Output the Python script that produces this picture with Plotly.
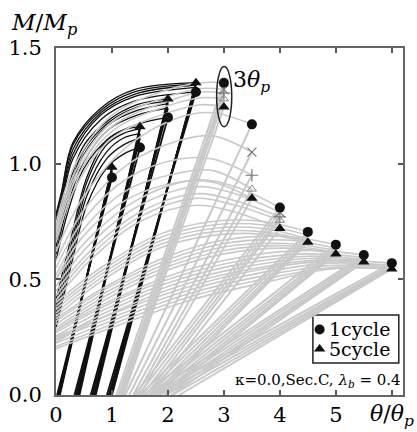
import plotly.graph_objects as go

# ---------------- data ----------------
AMPS = [1.0, 1.5, 2.0, 2.5, 3.0, 3.5, 4.0, 4.5, 5.0, 5.5, 6.0]
N_BLACK = 4  # first four amplitudes drawn in black

PEAK_C1 = [0.94, 1.07, 1.20, 1.31, 1.35, 1.17, 0.81, 0.705, 0.65, 0.605, 0.57]
PEAK_C2 = [0.955, 1.11, 1.24, 1.33, 1.32, 1.05, 0.79, 0.69, 0.635, 0.595, 0.56]
PEAK_C3 = [0.97, 1.13, 1.26, 1.34, 1.305, 0.95, 0.77, 0.675, 0.625, 0.585, 0.555]
PEAK_C4 = [0.98, 1.15, 1.27, 1.345, 1.28, 0.89, 0.755, 0.665, 0.615, 0.58, 0.55]
PEAK_C5 = [0.985, 1.16, 1.28, 1.35, 1.245, 0.85, 0.72, 0.66, 0.61, 0.575, 0.545]

BASE_C1 = [0.02, 0.33, 0.62, 0.91, 1.08, 1.24, 1.40, 1.50, 1.58, 1.66, 1.72]
BASE_C2 = [0.035, 0.355, 0.645, 0.94, 1.12, 1.31, 1.47, 1.58, 1.67, 1.76, 1.84]
BASE_C3 = [0.05, 0.38, 0.67, 0.96, 1.15, 1.38, 1.54, 1.66, 1.76, 1.86, 1.96]
BASE_C4 = [0.06, 0.40, 0.69, 0.98, 1.18, 1.44, 1.61, 1.74, 1.85, 1.96, 2.08]
BASE_C5 = [0.07, 0.42, 0.71, 1.00, 1.21, 1.50, 1.68, 1.82, 1.94, 2.06, 2.20]

RL_X_15 = [0.0, 0.28, 0.55, 0.9, 1.2]
RL_Y_15 = [[0.29, 0.57, 0.82, 0.98, 1.04], [0.32, 0.60, 0.86, 1.02, 1.08],
           [0.35, 0.63, 0.89, 1.05, 1.11], [0.38, 0.66, 0.92, 1.08, 1.13],
           [0.41, 0.69, 0.94, 1.10, 1.145]]
RL_X_20 = [0.0, 0.2, 0.5, 0.95, 1.45]
RL_Y_20 = [[0.58, 0.78, 0.98, 1.11, 1.17], [0.61, 0.81, 1.01, 1.15, 1.21],
           [0.64, 0.84, 1.04, 1.17, 1.23], [0.66, 0.86, 1.06, 1.18, 1.245],
           [0.68, 0.88, 1.08, 1.19, 1.255]]
RL_X_25 = [0.0, 0.1, 0.3, 0.8, 1.4]
RL_Y_25 = [[0.72, 0.82, 1.02, 1.19, 1.27], [0.74, 0.84, 1.04, 1.21, 1.29],
           [0.75, 0.85, 1.06, 1.22, 1.30], [0.77, 0.87, 1.08, 1.23, 1.31],
           [0.78, 0.88, 1.09, 1.24, 1.32]]
RL_X_30 = [0.0, 0.35, 1.0, 2.0, 2.6]
RL_Y_30 = [[0.74, 1.00, 1.21, 1.32, 1.35], [0.72, 0.97, 1.18, 1.29, 1.325],
           [0.70, 0.95, 1.16, 1.27, 1.31], [0.68, 0.93, 1.14, 1.25, 1.285],
           [0.66, 0.90, 1.11, 1.22, 1.255]]
RL_X_35 = [0.0, 0.5, 1.3, 2.2, 2.8]
RL_Y_35 = [[0.62, 0.86, 1.08, 1.20, 1.22], [0.58, 0.80, 1.00, 1.10, 1.12],
           [0.55, 0.76, 0.94, 1.02, 1.02], [0.52, 0.72, 0.89, 0.96, 0.97],
           [0.50, 0.69, 0.85, 0.92, 0.92]]
RL_X_40 = [0.0, 0.6, 1.5, 2.5, 3.2]
RL_Y_40 = [[0.50, 0.68, 0.85, 0.93, 0.90], [0.47, 0.65, 0.82, 0.90, 0.87],
           [0.45, 0.62, 0.79, 0.87, 0.84], [0.43, 0.60, 0.77, 0.85, 0.82],
           [0.41, 0.58, 0.75, 0.82, 0.79]]
RL_X_45 = [0.0, 0.8, 1.8, 2.8, 3.7]
RL_Y_45 = [[0.40, 0.55, 0.69, 0.75, 0.75], [0.385, 0.535, 0.675, 0.735, 0.735],
           [0.37, 0.52, 0.66, 0.72, 0.72], [0.355, 0.505, 0.645, 0.705, 0.705],
           [0.34, 0.49, 0.63, 0.69, 0.695]]
RL_X_50 = [0.0, 0.9, 2.0, 3.0, 4.1]
RL_Y_50 = [[0.33, 0.47, 0.60, 0.67, 0.685], [0.32, 0.46, 0.585, 0.655, 0.67],
           [0.305, 0.445, 0.57, 0.64, 0.655], [0.29, 0.43, 0.555, 0.625, 0.645],
           [0.28, 0.415, 0.54, 0.61, 0.635]]
RL_X_55 = [0.0, 1.0, 2.2, 3.4, 4.5]
RL_Y_55 = [[0.28, 0.41, 0.53, 0.60, 0.625], [0.27, 0.40, 0.515, 0.585, 0.61],
           [0.255, 0.385, 0.50, 0.57, 0.60], [0.24, 0.37, 0.485, 0.555, 0.59],
           [0.23, 0.355, 0.47, 0.54, 0.58]]
RL_X_60 = [0.0, 1.1, 2.4, 3.7, 4.9]
RL_Y_60 = [[0.25, 0.36, 0.47, 0.545, 0.58], [0.24, 0.345, 0.455, 0.53, 0.57],
           [0.225, 0.33, 0.44, 0.515, 0.56], [0.21, 0.315, 0.425, 0.50, 0.55],
           [0.20, 0.30, 0.41, 0.485, 0.545]]

MID_X = [3.0, 3.5, 4.0]

X_TICKS = [0, 1, 2, 3, 4, 5, 6]
X_TICKTEXT = ["0", "1", "2", "3", "4", "5", ""]
Y_TICKS = [0.0, 0.5, 1.0, 1.5]
Y_TICKTEXT = ["0.0", "0.5", "1.0", "1.5"]

# ---------------- build figure ----------------
PEAKS = [PEAK_C1, PEAK_C2, PEAK_C3, PEAK_C4, PEAK_C5]
BASES = [BASE_C1, BASE_C2, BASE_C3, BASE_C4, BASE_C5]
RELOAD = {1.5: (RL_X_15, RL_Y_15), 2.0: (RL_X_20, RL_Y_20), 2.5: (RL_X_25, RL_Y_25),
          3.0: (RL_X_30, RL_Y_30), 3.5: (RL_X_35, RL_Y_35), 4.0: (RL_X_40, RL_Y_40),
          4.5: (RL_X_45, RL_Y_45), 5.0: (RL_X_50, RL_Y_50), 5.5: (RL_X_55, RL_Y_55),
          6.0: (RL_X_60, RL_Y_60)}

BLACK = "#111111"
GRAY = "#c9c9c9"
SERIF = "DejaVu Serif"

fig = go.Figure()


def add_group(indices, color, w_curve, w_line):
    for i in indices:
        a = AMPS[i]
        if a not in RELOAD:
            continue
        xs, ys = RELOAD[a]
        for c in range(5):
            fig.add_trace(go.Scatter(
                x=list(xs) + [a], y=list(ys[c]) + [PEAKS[c][i]], mode="lines",
                line=dict(color=color, width=w_curve, shape="spline", smoothing=1.0),
                hoverinfo="skip", showlegend=False))
    lx, ly = [], []
    for i in indices:
        for c in range(5):
            lx += [BASES[c][i], AMPS[i], None]
            ly += [0.0, PEAKS[c][i], None]
    fig.add_trace(go.Scatter(x=lx, y=ly, mode="lines",
                             line=dict(color=color, width=w_line),
                             hoverinfo="skip", showlegend=False))


add_group(range(N_BLACK), BLACK, 1.3, 1.8)
add_group(range(N_BLACK, len(AMPS)), GRAY, 1.6, 2.0)

mid_idx = [AMPS.index(v) for v in MID_X]
fig.add_trace(go.Scatter(x=MID_X, y=[PEAK_C2[i] for i in mid_idx], mode="markers",
                         marker=dict(symbol="x-thin-open", size=9, color="#777",
                                     line=dict(color="#777", width=1.2)),
                         showlegend=False, hoverinfo="skip"))
fig.add_trace(go.Scatter(x=MID_X, y=[PEAK_C3[i] for i in mid_idx], mode="markers",
                         marker=dict(symbol="cross-thin-open", size=9, color="#777",
                                     line=dict(color="#777", width=1.2)),
                         showlegend=False, hoverinfo="skip"))
fig.add_trace(go.Scatter(x=MID_X, y=[PEAK_C4[i] for i in mid_idx], mode="markers",
                         marker=dict(symbol="triangle-up-open", size=8, color="#888",
                                     line=dict(color="#888", width=1)),
                         showlegend=False, hoverinfo="skip"))
fig.add_trace(go.Scatter(x=AMPS, y=PEAK_C5, mode="markers",
                         marker=dict(symbol="triangle-up", size=10, color=BLACK),
                         showlegend=False, hoverinfo="skip"))
fig.add_trace(go.Scatter(x=AMPS, y=PEAK_C1, mode="markers",
                         marker=dict(symbol="circle", size=10, color=BLACK),
                         showlegend=False, hoverinfo="skip"))

# legend (drawn manually)
fig.add_shape(type="rect", x0=4.59, x1=6.125, y0=0.138, y1=0.346,
              xref="x", yref="y", line=dict(color="#222", width=1.5),
              fillcolor="white", layer="below")
fig.add_trace(go.Scatter(x=[4.71], y=[0.283], mode="markers",
                         marker=dict(symbol="circle", size=10, color=BLACK),
                         showlegend=False, hoverinfo="skip"))
fig.add_trace(go.Scatter(x=[4.71], y=[0.199], mode="markers",
                         marker=dict(symbol="triangle-up", size=10, color=BLACK),
                         showlegend=False, hoverinfo="skip"))
fig.add_annotation(x=4.84, y=0.285, xref="x", yref="y", text="1cycle", showarrow=False,
                   xanchor="left", yanchor="middle", font=dict(family=SERIF, size=19, color="black"))
fig.add_annotation(x=4.84, y=0.197, xref="x", yref="y", text="5cycle", showarrow=False,
                   xanchor="left", yanchor="middle", font=dict(family=SERIF, size=19, color="black"))

# ellipse around 3θp markers and label
fig.add_shape(type="circle", x0=2.87, x1=3.14, y0=1.16, y1=1.42, xref="x", yref="y",
              line=dict(color="#222", width=1.5))
fig.add_annotation(x=3.5, y=1.355, xref="x", yref="y", text="3<i>θ<sub>p</sub></i>",
                   showarrow=False, xanchor="center", yanchor="middle",
                   font=dict(family=SERIF, size=22, color="black"))

fig.add_annotation(x=4.68, y=0.062, xref="x", yref="y",
                   text="κ=0.0,Sec.C, <i>λ<sub>b</sub></i> = 0.4", showarrow=False,
                   xanchor="center", yanchor="middle",
                   font=dict(family=SERIF, size=15, color="black"))

# axis titles
fig.add_annotation(x=-0.035, y=1.069, xref="paper", yref="paper",
                   text="<i>M</i>/<i>M<sub>p</sub></i>", showarrow=False,
                   xanchor="center", yanchor="middle",
                   font=dict(family=SERIF, size=23, color="black"))
fig.add_annotation(x=0.968, y=-0.058, xref="paper", yref="paper",
                   text="<i>θ</i>/<i>θ<sub>p</sub></i>", showarrow=False,
                   xanchor="center", yanchor="middle",
                   font=dict(family=SERIF, size=22, color="black"))

axis_common = dict(showgrid=False, zeroline=False, showline=True, linecolor="#666",
                   linewidth=2, mirror="ticks", ticks="inside", ticklen=5, tickwidth=1.5,
                   tickcolor="#555", automargin=False,
                   tickfont=dict(family=SERIF, size=21, color="black"))
fig.update_xaxes(range=[0, 6.2], tickvals=X_TICKS, ticktext=X_TICKTEXT, **axis_common)
fig.update_yaxes(range=[0, 1.5], tickvals=Y_TICKS, ticktext=Y_TICKTEXT,
                 ticklabelstandoff=8, **axis_common)

fig.update_layout(width=417, height=432, margin=dict(l=56, r=14, t=48, b=37, autoexpand=False),
                  plot_bgcolor="white", paper_bgcolor="white", showlegend=False,
                  font=dict(family=SERIF))

fig.write_html("out.html")
